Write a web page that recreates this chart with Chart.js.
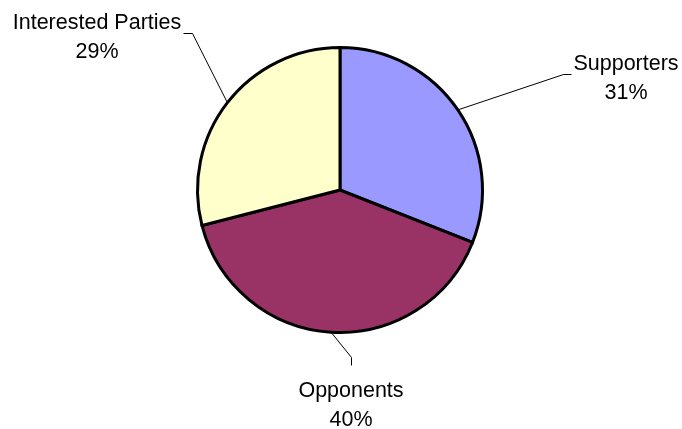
<!DOCTYPE html>
<html lang="en">
<head>
    <meta charset="UTF-8">
    <title>Stakeholders</title>
    <script src="https://cdn.jsdelivr.net/npm/chart.js"></script>
    <style>
        html, body { margin: 0; padding: 0; background: #fff; }
        canvas { display: block; }
    </style>
</head>
<body>

    <canvas id="stakeChart" width="682" height="429"></canvas>

    <script>
        const categories = ['Supporters', 'Opponents', 'Interested Parties'];
        const shares = [31, 40, 29];
        const sliceColors = ['#9999FF', '#993366', '#FFFFCC'];

        // where each label sits (centre x, first baseline) and how its leader line bends
        const labelLayout = [
            { x: 626, y: 70, elbow: [563, 74], end: [571, 74] },
            { x: 351, y: 397, elbow: [351, 357], end: [351, 365] },
            { x: 97, y: 29, elbow: [192, 33], end: [183, 33] }
        ];

        const calloutLabels = {
            id: 'calloutLabels',
            afterDatasetsDraw(chart) {
                const ctx = chart.ctx;
                const meta = chart.getDatasetMeta(0);
                const data = chart.data.datasets[0].data;
                const total = data.reduce((a, b) => a + b, 0);

                ctx.save();
                meta.data.forEach((arc, i) => {
                    const lay = labelLayout[i];
                    const mid = (arc.startAngle + arc.endAngle) / 2;
                    const sx = arc.x + Math.cos(mid) * arc.outerRadius;
                    const sy = arc.y + Math.sin(mid) * arc.outerRadius;

                    ctx.strokeStyle = '#000';
                    ctx.lineWidth = 1;
                    ctx.beginPath();
                    ctx.moveTo(sx, sy);
                    ctx.lineTo(lay.elbow[0] + 0.5, lay.elbow[1] + 0.5);
                    ctx.lineTo(lay.end[0] + 0.5, lay.end[1] + 0.5);
                    ctx.stroke();

                    ctx.fillStyle = '#000';
                    ctx.font = '21.5px "Liberation Sans", Arial, sans-serif';
                    ctx.textAlign = 'center';
                    ctx.textBaseline = 'alphabetic';
                    ctx.fillText(chart.data.labels[i], lay.x, lay.y);
                    ctx.fillText(Math.round(data[i] / total * 100) + '%', lay.x, lay.y + 29);
                });
                ctx.restore();
            }
        };

        const ctx = document.getElementById('stakeChart').getContext('2d');
        new Chart(ctx, {
            type: 'pie',
            data: {
                labels: categories,
                datasets: [{
                    data: shares,
                    backgroundColor: sliceColors,
                    borderColor: '#000',
                    borderWidth: 3,
                    borderJoinStyle: 'miter'
                }]
            },
            options: {
                responsive: false,
                animation: false,
                layout: {
                    padding: { top: 46, bottom: 95, left: 196, right: 198 }
                },
                plugins: {
                    legend: { display: false },
                    tooltip: { enabled: false }
                }
            },
            plugins: [calloutLabels]
        });
    </script>
</body>
</html>
